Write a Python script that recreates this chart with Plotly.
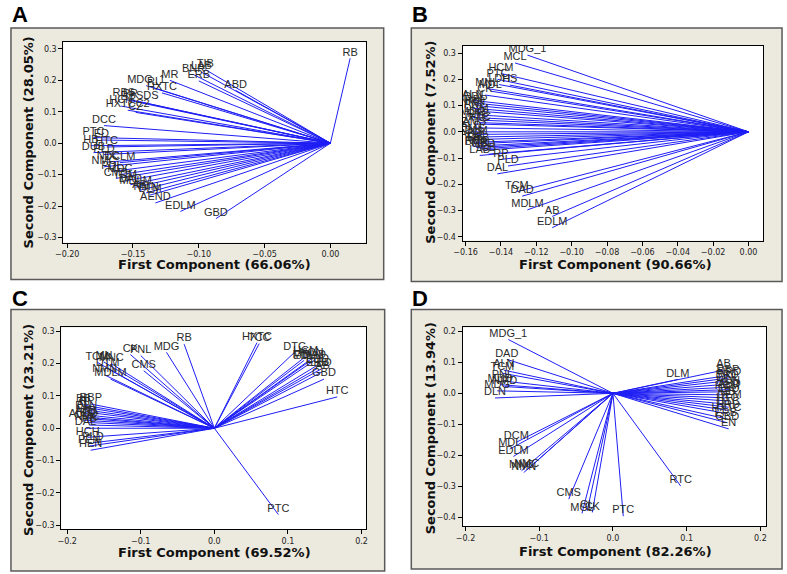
import plotly.graph_objects as go

# ---------------- Panel A ----------------
labels_a = ["RB", "TIB", "LAB", "BNR", "ERB", "MR", "ABD", "MDG_1", "RL", "HXTC",
            "RBS", "PR", "RBSDS", "HCN", "HXTCC2", "CZ", "DCC", "PTC", "ED", "HB",
            "HTC", "DUB", "PLD", "NTC", "DCLM", "NMC", "PDL", "MDC", "CMS", "TCM",
            "DAD", "MDLM", "AB", "NMN", "DLM", "AEND", "EDLM", "GBD"]
pc1_a = [0.015, -0.095, -0.098, -0.104, -0.100, -0.122, -0.072, -0.140, -0.134, -0.128,
         -0.157, -0.152, -0.145, -0.159, -0.154, -0.148, -0.172, -0.180, -0.174, -0.182,
         -0.170, -0.180, -0.172, -0.169, -0.160, -0.172, -0.166, -0.160, -0.163, -0.156,
         -0.152, -0.148, -0.145, -0.140, -0.137, -0.133, -0.114, -0.087]
pc2_a = [0.270, 0.234, 0.226, 0.218, 0.198, 0.200, 0.168, 0.183, 0.176, 0.160,
         0.140, 0.138, 0.132, 0.118, 0.105, 0.098, 0.056, 0.018, 0.010, -0.008,
         -0.012, -0.030, -0.036, -0.060, -0.062, -0.075, -0.090, -0.100, -0.112, -0.120,
         -0.132, -0.140, -0.150, -0.158, -0.165, -0.190, -0.217, -0.240]

# ---------------- Panel B ----------------
labels_b = ["MDG_1", "MCL", "HCM", "PTC", "LDH", "HS", "MNL", "MDL", "CK", "ALN",
            "DDL", "RBP", "NMN", "PNL", "DCM", "MDG", "RTC", "HXTC", "HTC", "AMS",
            "ALD", "CMS", "DLM", "ABD", "TIB", "ERB", "RB", "BNR", "MR", "GBD",
            "CB", "LAB", "RP", "PLD", "DAL", "TCM", "DAD", "MDLM", "AB", "EDLM"]
pc1_b = [-0.125, -0.132, -0.140, -0.142, -0.141, -0.135, -0.148, -0.146, -0.149, -0.156,
         -0.155, -0.154, -0.156, -0.155, -0.154, -0.156, -0.153, -0.155, -0.152, -0.155,
         -0.157, -0.156, -0.154, -0.157, -0.155, -0.153, -0.156, -0.154, -0.152, -0.150,
         -0.147, -0.152, -0.140, -0.136, -0.142, -0.131, -0.128, -0.125, -0.111, -0.111]
pc2_b = [0.292, 0.262, 0.222, 0.200, 0.180, 0.178, 0.165, 0.155, 0.140, 0.120,
         0.110, 0.100, 0.090, 0.080, 0.065, 0.055, 0.045, 0.030, 0.035, 0.015,
         0.000, -0.010, -0.020, -0.030, -0.040, -0.045, -0.055, -0.060, -0.065, -0.070,
         -0.085, -0.090, -0.105, -0.130, -0.160, -0.228, -0.245, -0.297, -0.322, -0.365]

# ---------------- Panel C ----------------
labels_c = ["RB", "HXTC", "TCC", "MDG", "CK", "PNL", "CMS", "MNC", "MN", "TCM",
            "DTM", "NMN", "MDLM", "RBP", "BB", "RI", "AL", "DLN", "EB", "ALD",
            "ALDD", "ED", "NMC", "HB", "DAL", "HCH", "PLD", "PEN", "HEN",
            "DTC", "HCM", "MDL", "HCN", "EDLM", "DAD", "ERB", "EDD", "LBD", "AB",
            "GBD", "HTC", "PTC"]
pc1_c = [-0.041, 0.058, 0.061, -0.065, -0.114, -0.100, -0.096, -0.140, -0.150, -0.159,
         -0.145, -0.149, -0.141, -0.168, -0.178, -0.176, -0.178, -0.174, -0.177, -0.175,
         -0.178, -0.172, -0.173, -0.170, -0.175, -0.172, -0.165, -0.170, -0.168,
         0.109, 0.124, 0.122, 0.132, 0.128, 0.136, 0.140, 0.140, 0.145, 0.147,
         0.149, 0.167, 0.087]
pc2_c = [0.260, 0.265, 0.262, 0.235, 0.228, 0.225, 0.178, 0.200, 0.205, 0.204,
         0.185, 0.165, 0.152, 0.075, 0.072, 0.065, 0.058, 0.050, 0.042, 0.035,
         0.025, 0.030, 0.018, 0.010, 0.000, -0.028, -0.045, -0.055, -0.068,
         0.235, 0.222, 0.210, 0.215, 0.205, 0.210, 0.185, 0.195, 0.183, 0.175,
         0.152, 0.097, -0.267]

# ---------------- Panel D ----------------
labels_d = ["MDG_1", "DAD", "ALN", "TCM", "PNL", "MDD", "NMD", "MDG", "DLN", "DLM",
            "AB", "RBP", "RRD", "BRD", "DNL", "HCN", "ABD", "HCM", "LBD", "EB",
            "DEM", "HTC", "DTC", "HRD", "HXTC", "ERB", "GBD", "EN",
            "DCM", "MDL", "EDLM", "NMN", "NMC", "MNC", "CMS", "MCL", "CL", "CK",
            "PTC", "RTC"]
pc1_d = [-0.142, -0.144, -0.148, -0.150, -0.150, -0.153, -0.147, -0.157, -0.160, 0.088,
         0.150, 0.156, 0.158, 0.155, 0.157, 0.156, 0.158, 0.155, 0.157, 0.156,
         0.158, 0.155, 0.157, 0.156, 0.154, 0.153, 0.155, 0.157,
         -0.131, -0.140, -0.135, -0.121, -0.117, -0.124, -0.060, -0.042, -0.035, -0.028,
         0.014, 0.092]
pc2_d = [0.174, 0.110, 0.075, 0.065, 0.040, 0.028, 0.022, 0.008, -0.015, 0.045,
         0.075, 0.058, 0.050, 0.040, 0.030, 0.020, 0.012, 0.005, -0.005, -0.015,
         -0.025, -0.035, -0.045, -0.055, -0.065, -0.082, -0.095, -0.115,
         -0.158, -0.180, -0.204, -0.256, -0.248, -0.250, -0.342, -0.388, -0.380, -0.385,
         -0.397, -0.300]

titles_x = ["First Component (66.06%)", "First Component (90.66%)",
            "First Component (69.52%)", "First Component (82.26%)"]
titles_y = ["Second Component (28.05%)", "Second Component (7.52%)",
            "Second Component (23.21%)", "Second Component (13.94%)"]
panel_letters = ["A", "B", "C", "D"]

W, H = 787, 574
LINE_COLOR = "rgb(30,30,245)"

def px_x(v):
    return v / W

def px_y(v):
    return 1 - v / H

# plot areas in pixels: (left, right, top, bottom)
areas = [(55, 362, 42, 243), (460, 765, 46, 241), (53, 362, 328, 530), (460, 768, 328, 527)]
frames = [(2, 380, 28, 280), (408, 784, 28, 282), (2, 381, 310, 572), (408, 784, 310, 570)]
xranges = [[-0.203, 0.027], [-0.1617, 0.0084], [-0.208, 0.206], [-0.204, 0.208]]
yranges = [[-0.316, 0.322], [-0.414, 0.327], [-0.312, 0.312], [-0.429, 0.213]]
xticks = [[-0.20, -0.15, -0.10, -0.05, 0.00],
          [-0.16, -0.14, -0.12, -0.10, -0.08, -0.06, -0.04, -0.02, 0.00],
          [-0.2, -0.1, 0.0, 0.1, 0.2],
          [-0.2, -0.1, 0.0, 0.1, 0.2]]
xfmt = [".2f", ".2f", ".1f", ".1f"]
yticks = [[-0.3, -0.2, -0.1, 0.0, 0.1, 0.2, 0.3],
          [-0.4, -0.3, -0.2, -0.1, 0.0, 0.1, 0.2, 0.3],
          [-0.3, -0.2, -0.1, 0.0, 0.1, 0.2, 0.3],
          [-0.4, -0.3, -0.2, -0.1, 0.0, 0.1, 0.2]]
xtitle_pos = [(208, 265), (615, 265), (208, 553), (615, 552)]
ytitle_pos = [(20, 143), (428, 143), (20, 431), (427, 429)]
letter_pos = [(1, 0), (407, 0), (1, 284), (407, 284)]

data = [(labels_a, pc1_a, pc2_a), (labels_b, pc1_b, pc2_b),
        (labels_c, pc1_c, pc2_c), (labels_d, pc1_d, pc2_d)]

fig = go.Figure()
shapes = []
annotations = []
layout_axes = {}

for i, (labs, xs, ys) in enumerate(data):
    n = i + 1
    xa = "x" if n == 1 else f"x{n}"
    ya = "y" if n == 1 else f"y{n}"
    lx, ly = [], []
    for xv, yv in zip(xs, ys):
        lx += [0, xv, None]
        ly += [0, yv, None]
    fig.add_trace(go.Scatter(x=lx, y=ly, mode="lines", xaxis=xa, yaxis=ya,
                             line=dict(color=LINE_COLOR, width=1), hoverinfo="skip",
                             showlegend=False))
    fig.add_trace(go.Scatter(x=xs, y=ys, mode="text", text=labs, xaxis=xa, yaxis=ya,
                             textposition="top center",
                             textfont=dict(family="Liberation Sans", size=11, color="#2a2a2a"),
                             showlegend=False))

    l, r, t, b = areas[i]
    fl, fr, ft, fb = frames[i]
    shapes.append(dict(type="rect", xref="paper", yref="paper", layer="below",
                       x0=px_x(fl), x1=px_x(fr), y0=px_y(fb), y1=px_y(ft),
                       fillcolor="#ECE9DE", line=dict(color="#5a5a5a", width=1.5)))
    shapes.append(dict(type="rect", xref="paper", yref="paper", layer="below",
                       x0=px_x(l), x1=px_x(r), y0=px_y(b), y1=px_y(t),
                       fillcolor="white", line=dict(width=0)))

    xkey = "xaxis" if n == 1 else f"xaxis{n}"
    ykey = "yaxis" if n == 1 else f"yaxis{n}"
    layout_axes[xkey] = dict(domain=[px_x(l), px_x(r)], anchor=ya, range=xranges[i],
                             tickvals=xticks[i], tickformat=xfmt[i],
                             showgrid=False, zeroline=False, showline=True, mirror=True,
                             linecolor="black", linewidth=1, ticks="outside", ticklen=4,
                             tickcolor="black",
                             tickfont=dict(family="DejaVu Sans", size=8, color="#222"))
    layout_axes[ykey] = dict(domain=[px_y(b), px_y(t)], anchor=xa, range=yranges[i],
                             tickvals=yticks[i], tickformat=".1f",
                             showgrid=False, zeroline=False, showline=True, mirror=True,
                             linecolor="black", linewidth=1, ticks="outside", ticklen=4,
                             tickcolor="black",
                             tickfont=dict(family="DejaVu Sans", size=8, color="#222"))

    tx, ty = xtitle_pos[i]
    annotations.append(dict(text=f"<b>{titles_x[i]}</b>", xref="paper", yref="paper",
                            x=px_x(tx), y=px_y(ty), xanchor="center", yanchor="middle",
                            showarrow=False,
                            font=dict(family="DejaVu Sans", size=13, color="#111")))
    yx, yy = ytitle_pos[i]
    annotations.append(dict(text=f"<b>{titles_y[i]}</b>", xref="paper", yref="paper",
                            x=px_x(yx), y=px_y(yy), xanchor="center", yanchor="middle",
                            textangle=-90, showarrow=False,
                            font=dict(family="DejaVu Sans", size=13, color="#111")))
    lxp, lyp = letter_pos[i]
    annotations.append(dict(text=f"<b>{panel_letters[i]}</b>", xref="paper", yref="paper",
                            x=px_x(lxp), y=px_y(lyp), xanchor="left", yanchor="top",
                            showarrow=False,
                            font=dict(family="Liberation Sans", size=22, color="black")))

fig.update_layout(width=W, height=H, margin=dict(l=0, r=0, t=0, b=0),
                  paper_bgcolor="white", plot_bgcolor="rgba(0,0,0,0)",
                  shapes=shapes, annotations=annotations, **layout_axes)

fig.write_html("out.html", config={"displayModeBar": False},
               post_script="document.body.style.margin='0px';")
